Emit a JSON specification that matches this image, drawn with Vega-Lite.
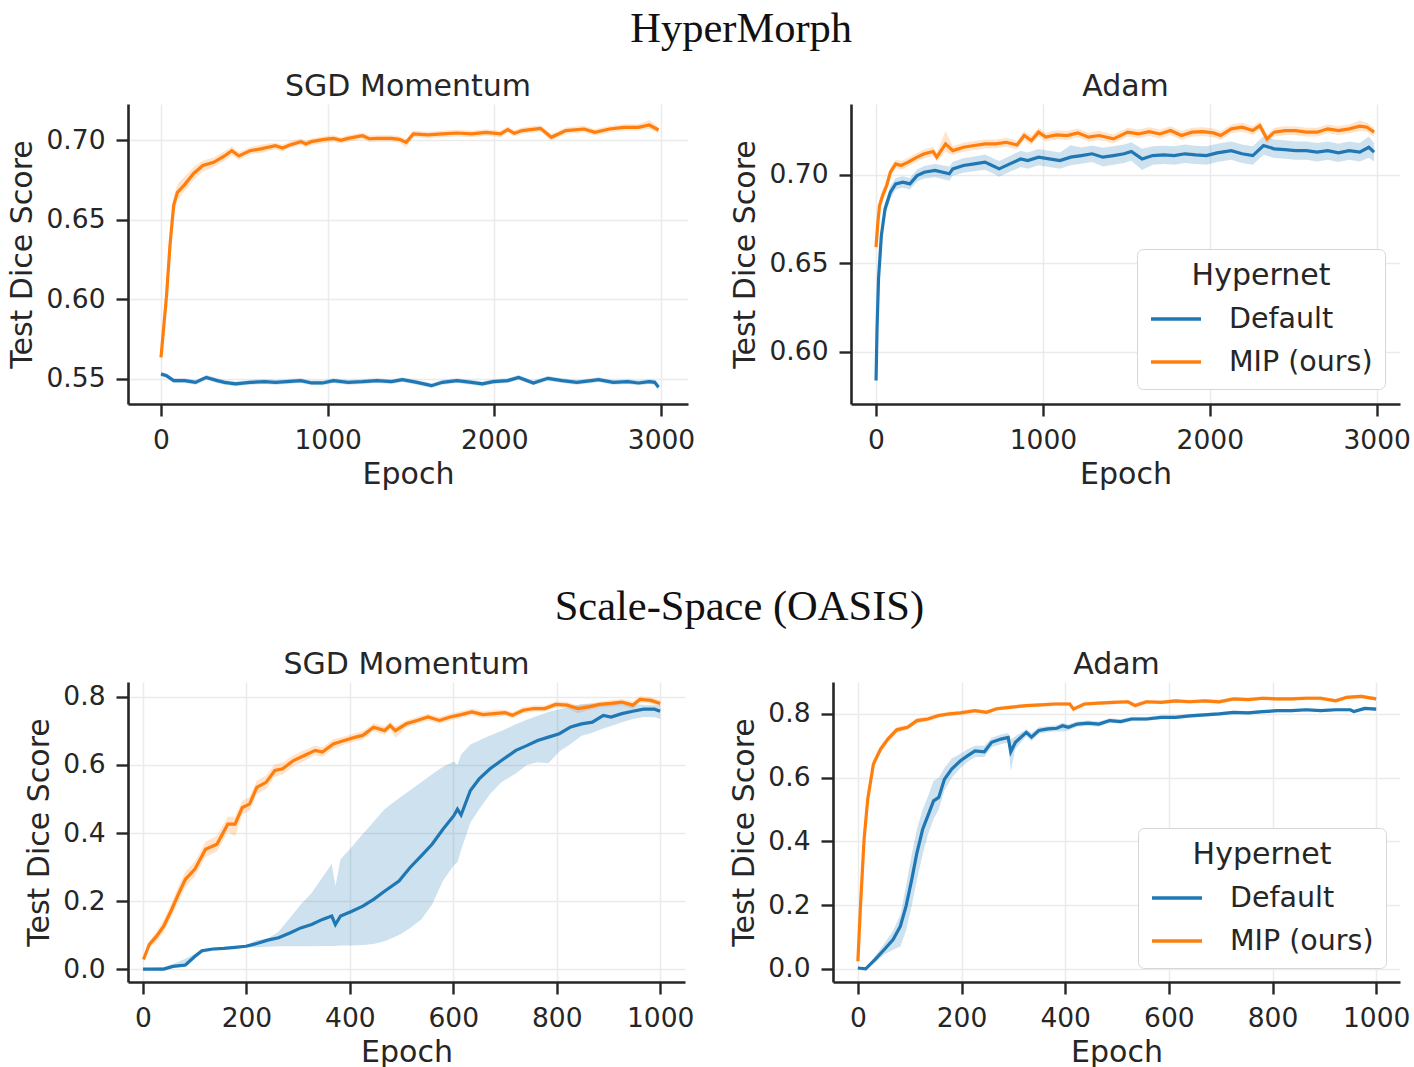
{
"$schema": "https://vega.github.io/schema/vega-lite/v6.json",
"background": "white",
"padding": {"left": 7, "top": 7, "right": 4, "bottom": 5},
"config": {
  "font": "DejaVu Sans",
  "view": {"stroke": null},
  "axis": {"domainColor": "#262626", "domainWidth": 2.6, "tickColor": "#262626", "tickWidth": 2.4, "tickSize": 12, "gridColor": "#ebebeb", "gridWidth": 1.5, "labelFont": "DejaVu Sans", "labelFontSize": 26.5, "labelColor": "#262626", "labelPadding": 11, "titleFont": "DejaVu Sans", "titleFontSize": 30, "titleFontWeight": "normal", "titleColor": "#262626"},
  "axisX": {"titlePadding": 6},
  "axisY": {"titlePadding": 8},
  "title": {"font": "DejaVu Sans", "fontSize": 30, "fontWeight": "normal", "color": "#262626", "offset": 2}
},
"datasets": {
"a": [
{"hypernet":"MIP (ours)","epoch":0,"dice":0.5636,"lo":0.5596,"hi":0.5676},
{"hypernet":"MIP (ours)","epoch":33,"dice":0.602,"lo":0.596,"hi":0.608},
{"hypernet":"MIP (ours)","epoch":54,"dice":0.634,"lo":0.628,"hi":0.640},
{"hypernet":"MIP (ours)","epoch":76,"dice":0.659,"lo":0.653,"hi":0.664},
{"hypernet":"MIP (ours)","epoch":98,"dice":0.667,"lo":0.662,"hi":0.672},
{"hypernet":"MIP (ours)","epoch":142,"dice":0.672,"lo":0.668,"hi":0.677},
{"hypernet":"MIP (ours)","epoch":196,"dice":0.679,"lo":0.675,"hi":0.683},
{"hypernet":"MIP (ours)","epoch":251,"dice":0.684,"lo":0.680,"hi":0.687},
{"hypernet":"MIP (ours)","epoch":316,"dice":0.686,"lo":0.683,"hi":0.689},
{"hypernet":"MIP (ours)","epoch":381,"dice":0.690,"lo":0.687,"hi":0.693},
{"hypernet":"MIP (ours)","epoch":425,"dice":0.6933,"lo":0.6905,"hi":0.696},
{"hypernet":"MIP (ours)","epoch":468,"dice":0.690,"lo":0.6875,"hi":0.6925},
{"hypernet":"MIP (ours)","epoch":534,"dice":0.6933,"lo":0.691,"hi":0.6955},
{"hypernet":"MIP (ours)","epoch":599,"dice":0.6944,"lo":0.692,"hi":0.697},
{"hypernet":"MIP (ours)","epoch":686,"dice":0.6964,"lo":0.694,"hi":0.6985},
{"hypernet":"MIP (ours)","epoch":730,"dice":0.6950,"lo":0.693,"hi":0.697},
{"hypernet":"MIP (ours)","epoch":773,"dice":0.6969,"lo":0.695,"hi":0.699},
{"hypernet":"MIP (ours)","epoch":839,"dice":0.699,"lo":0.697,"hi":0.701},
{"hypernet":"MIP (ours)","epoch":870,"dice":0.6975,"lo":0.6955,"hi":0.6995},
{"hypernet":"MIP (ours)","epoch":904,"dice":0.699,"lo":0.697,"hi":0.701},
{"hypernet":"MIP (ours)","epoch":969,"dice":0.7002,"lo":0.698,"hi":0.7022},
{"hypernet":"MIP (ours)","epoch":1035,"dice":0.701,"lo":0.699,"hi":0.703},
{"hypernet":"MIP (ours)","epoch":1080,"dice":0.6998,"lo":0.6978,"hi":0.7018},
{"hypernet":"MIP (ours)","epoch":1122,"dice":0.701,"lo":0.699,"hi":0.703},
{"hypernet":"MIP (ours)","epoch":1209,"dice":0.7027,"lo":0.7007,"hi":0.7047},
{"hypernet":"MIP (ours)","epoch":1250,"dice":0.7008,"lo":0.6988,"hi":0.7028},
{"hypernet":"MIP (ours)","epoch":1296,"dice":0.701,"lo":0.699,"hi":0.703},
{"hypernet":"MIP (ours)","epoch":1383,"dice":0.701,"lo":0.699,"hi":0.703},
{"hypernet":"MIP (ours)","epoch":1430,"dice":0.7004,"lo":0.6984,"hi":0.7024},
{"hypernet":"MIP (ours)","epoch":1471,"dice":0.6985,"lo":0.6955,"hi":0.7005},
{"hypernet":"MIP (ours)","epoch":1514,"dice":0.7038,"lo":0.7018,"hi":0.7058},
{"hypernet":"MIP (ours)","epoch":1601,"dice":0.7032,"lo":0.7012,"hi":0.7052},
{"hypernet":"MIP (ours)","epoch":1688,"dice":0.7038,"lo":0.7018,"hi":0.7058},
{"hypernet":"MIP (ours)","epoch":1776,"dice":0.7044,"lo":0.7024,"hi":0.7064},
{"hypernet":"MIP (ours)","epoch":1863,"dice":0.7038,"lo":0.7018,"hi":0.7058},
{"hypernet":"MIP (ours)","epoch":1950,"dice":0.7048,"lo":0.7028,"hi":0.7068},
{"hypernet":"MIP (ours)","epoch":2037,"dice":0.7038,"lo":0.7018,"hi":0.7058},
{"hypernet":"MIP (ours)","epoch":2081,"dice":0.7065,"lo":0.7045,"hi":0.7085},
{"hypernet":"MIP (ours)","epoch":2120,"dice":0.7042,"lo":0.7022,"hi":0.7062},
{"hypernet":"MIP (ours)","epoch":2168,"dice":0.7059,"lo":0.7039,"hi":0.7079},
{"hypernet":"MIP (ours)","epoch":2277,"dice":0.7073,"lo":0.7053,"hi":0.7093},
{"hypernet":"MIP (ours)","epoch":2342,"dice":0.7017,"lo":0.6997,"hi":0.7037},
{"hypernet":"MIP (ours)","epoch":2429,"dice":0.7059,"lo":0.7039,"hi":0.7079},
{"hypernet":"MIP (ours)","epoch":2538,"dice":0.7069,"lo":0.7049,"hi":0.7089},
{"hypernet":"MIP (ours)","epoch":2603,"dice":0.7048,"lo":0.7028,"hi":0.7068},
{"hypernet":"MIP (ours)","epoch":2691,"dice":0.7069,"lo":0.7049,"hi":0.7089},
{"hypernet":"MIP (ours)","epoch":2778,"dice":0.7079,"lo":0.7059,"hi":0.7099},
{"hypernet":"MIP (ours)","epoch":2865,"dice":0.7079,"lo":0.7059,"hi":0.7099},
{"hypernet":"MIP (ours)","epoch":2930,"dice":0.7094,"lo":0.7070,"hi":0.7125},
{"hypernet":"MIP (ours)","epoch":2985,"dice":0.7063,"lo":0.7043,"hi":0.7083},
{"hypernet":"Default","epoch":0,"dice":0.5531,"lo":0.5516,"hi":0.5546},
{"hypernet":"Default","epoch":33,"dice":0.5521,"lo":0.5506,"hi":0.5536},
{"hypernet":"Default","epoch":76,"dice":0.549,"lo":0.5475,"hi":0.5505},
{"hypernet":"Default","epoch":142,"dice":0.549,"lo":0.5475,"hi":0.5505},
{"hypernet":"Default","epoch":207,"dice":0.5479,"lo":0.5464,"hi":0.5494},
{"hypernet":"Default","epoch":272,"dice":0.551,"lo":0.5495,"hi":0.5525},
{"hypernet":"Default","epoch":338,"dice":0.549,"lo":0.5475,"hi":0.5505},
{"hypernet":"Default","epoch":381,"dice":0.5479,"lo":0.5464,"hi":0.5494},
{"hypernet":"Default","epoch":447,"dice":0.5469,"lo":0.5454,"hi":0.5484},
{"hypernet":"Default","epoch":534,"dice":0.5479,"lo":0.5464,"hi":0.5494},
{"hypernet":"Default","epoch":621,"dice":0.5483,"lo":0.5468,"hi":0.5498},
{"hypernet":"Default","epoch":686,"dice":0.5479,"lo":0.5464,"hi":0.5494},
{"hypernet":"Default","epoch":752,"dice":0.5483,"lo":0.5468,"hi":0.5498},
{"hypernet":"Default","epoch":839,"dice":0.549,"lo":0.5475,"hi":0.5505},
{"hypernet":"Default","epoch":904,"dice":0.5475,"lo":0.546,"hi":0.549},
{"hypernet":"Default","epoch":969,"dice":0.5475,"lo":0.546,"hi":0.549},
{"hypernet":"Default","epoch":1035,"dice":0.549,"lo":0.5475,"hi":0.5505},
{"hypernet":"Default","epoch":1122,"dice":0.5479,"lo":0.5464,"hi":0.5494},
{"hypernet":"Default","epoch":1209,"dice":0.5483,"lo":0.5468,"hi":0.5498},
{"hypernet":"Default","epoch":1296,"dice":0.549,"lo":0.5475,"hi":0.5505},
{"hypernet":"Default","epoch":1383,"dice":0.5483,"lo":0.5468,"hi":0.5498},
{"hypernet":"Default","epoch":1448,"dice":0.5496,"lo":0.5481,"hi":0.5511},
{"hypernet":"Default","epoch":1536,"dice":0.5479,"lo":0.5464,"hi":0.5494},
{"hypernet":"Default","epoch":1623,"dice":0.5458,"lo":0.5443,"hi":0.5473},
{"hypernet":"Default","epoch":1688,"dice":0.5479,"lo":0.5464,"hi":0.5494},
{"hypernet":"Default","epoch":1776,"dice":0.549,"lo":0.5475,"hi":0.5505},
{"hypernet":"Default","epoch":1863,"dice":0.5479,"lo":0.5464,"hi":0.5494},
{"hypernet":"Default","epoch":1928,"dice":0.5469,"lo":0.5454,"hi":0.5484},
{"hypernet":"Default","epoch":1993,"dice":0.5483,"lo":0.5468,"hi":0.5498},
{"hypernet":"Default","epoch":2081,"dice":0.549,"lo":0.5475,"hi":0.5505},
{"hypernet":"Default","epoch":2146,"dice":0.551,"lo":0.5495,"hi":0.5525},
{"hypernet":"Default","epoch":2234,"dice":0.5475,"lo":0.546,"hi":0.549},
{"hypernet":"Default","epoch":2321,"dice":0.5504,"lo":0.5489,"hi":0.5519},
{"hypernet":"Default","epoch":2408,"dice":0.549,"lo":0.5475,"hi":0.5505},
{"hypernet":"Default","epoch":2495,"dice":0.5479,"lo":0.5464,"hi":0.5494},
{"hypernet":"Default","epoch":2582,"dice":0.549,"lo":0.5475,"hi":0.5505},
{"hypernet":"Default","epoch":2625,"dice":0.5496,"lo":0.5481,"hi":0.5511},
{"hypernet":"Default","epoch":2713,"dice":0.5479,"lo":0.5464,"hi":0.5494},
{"hypernet":"Default","epoch":2800,"dice":0.5483,"lo":0.5468,"hi":0.5498},
{"hypernet":"Default","epoch":2865,"dice":0.5475,"lo":0.546,"hi":0.549},
{"hypernet":"Default","epoch":2930,"dice":0.5483,"lo":0.5468,"hi":0.5498},
{"hypernet":"Default","epoch":2963,"dice":0.5479,"lo":0.5464,"hi":0.5494},
{"hypernet":"Default","epoch":2985,"dice":0.5448,"lo":0.5433,"hi":0.5463}
],
"b": [
{"hypernet":"MIP (ours)","epoch":0,"dice":0.659,"lo":0.657,"hi":0.661},
{"hypernet":"MIP (ours)","epoch":11,"dice":0.6731,"lo":0.670,"hi":0.676},
{"hypernet":"MIP (ours)","epoch":21,"dice":0.6825,"lo":0.679,"hi":0.686},
{"hypernet":"MIP (ours)","epoch":43,"dice":0.6891,"lo":0.686,"hi":0.692},
{"hypernet":"MIP (ours)","epoch":64,"dice":0.6938,"lo":0.691,"hi":0.697},
{"hypernet":"MIP (ours)","epoch":86,"dice":0.7013,"lo":0.699,"hi":0.704},
{"hypernet":"MIP (ours)","epoch":118,"dice":0.706,"lo":0.7035,"hi":0.7085},
{"hypernet":"MIP (ours)","epoch":150,"dice":0.7051,"lo":0.7026,"hi":0.7076},
{"hypernet":"MIP (ours)","epoch":193,"dice":0.707,"lo":0.7045,"hi":0.7095},
{"hypernet":"MIP (ours)","epoch":246,"dice":0.7098,"lo":0.7073,"hi":0.7123},
{"hypernet":"MIP (ours)","epoch":289,"dice":0.7117,"lo":0.7092,"hi":0.7142},
{"hypernet":"MIP (ours)","epoch":342,"dice":0.713,"lo":0.7105,"hi":0.7155},
{"hypernet":"MIP (ours)","epoch":364,"dice":0.7098,"lo":0.7073,"hi":0.7123},
{"hypernet":"MIP (ours)","epoch":417,"dice":0.7173,"lo":0.713,"hi":0.7245},
{"hypernet":"MIP (ours)","epoch":460,"dice":0.7135,"lo":0.711,"hi":0.716},
{"hypernet":"MIP (ours)","epoch":524,"dice":0.7154,"lo":0.7129,"hi":0.7179},
{"hypernet":"MIP (ours)","epoch":589,"dice":0.7164,"lo":0.7139,"hi":0.7189},
{"hypernet":"MIP (ours)","epoch":653,"dice":0.7173,"lo":0.7148,"hi":0.7198},
{"hypernet":"MIP (ours)","epoch":717,"dice":0.7173,"lo":0.7148,"hi":0.7198},
{"hypernet":"MIP (ours)","epoch":781,"dice":0.7182,"lo":0.7157,"hi":0.7207},
{"hypernet":"MIP (ours)","epoch":845,"dice":0.7167,"lo":0.7142,"hi":0.7192},
{"hypernet":"MIP (ours)","epoch":888,"dice":0.722,"lo":0.7195,"hi":0.7245},
{"hypernet":"MIP (ours)","epoch":931,"dice":0.7192,"lo":0.7167,"hi":0.7217},
{"hypernet":"MIP (ours)","epoch":974,"dice":0.7239,"lo":0.7214,"hi":0.7264},
{"hypernet":"MIP (ours)","epoch":1017,"dice":0.7211,"lo":0.7186,"hi":0.7236},
{"hypernet":"MIP (ours)","epoch":1081,"dice":0.7224,"lo":0.7199,"hi":0.7249},
{"hypernet":"MIP (ours)","epoch":1145,"dice":0.722,"lo":0.7195,"hi":0.7245},
{"hypernet":"MIP (ours)","epoch":1209,"dice":0.7235,"lo":0.721,"hi":0.726},
{"hypernet":"MIP (ours)","epoch":1273,"dice":0.7211,"lo":0.7186,"hi":0.7236},
{"hypernet":"MIP (ours)","epoch":1337,"dice":0.722,"lo":0.7195,"hi":0.7245},
{"hypernet":"MIP (ours)","epoch":1423,"dice":0.7201,"lo":0.7176,"hi":0.7226},
{"hypernet":"MIP (ours)","epoch":1508,"dice":0.7239,"lo":0.7214,"hi":0.7264},
{"hypernet":"MIP (ours)","epoch":1572,"dice":0.7229,"lo":0.7204,"hi":0.7254},
{"hypernet":"MIP (ours)","epoch":1637,"dice":0.7242,"lo":0.7217,"hi":0.7267},
{"hypernet":"MIP (ours)","epoch":1701,"dice":0.7229,"lo":0.7204,"hi":0.7254},
{"hypernet":"MIP (ours)","epoch":1765,"dice":0.7248,"lo":0.7223,"hi":0.7273},
{"hypernet":"MIP (ours)","epoch":1830,"dice":0.722,"lo":0.7195,"hi":0.7245},
{"hypernet":"MIP (ours)","epoch":1894,"dice":0.7239,"lo":0.7214,"hi":0.7264},
{"hypernet":"MIP (ours)","epoch":1958,"dice":0.7242,"lo":0.7217,"hi":0.7267},
{"hypernet":"MIP (ours)","epoch":2022,"dice":0.7235,"lo":0.721,"hi":0.726},
{"hypernet":"MIP (ours)","epoch":2065,"dice":0.722,"lo":0.7195,"hi":0.7245},
{"hypernet":"MIP (ours)","epoch":2129,"dice":0.7258,"lo":0.7233,"hi":0.7283},
{"hypernet":"MIP (ours)","epoch":2193,"dice":0.7267,"lo":0.7242,"hi":0.7292},
{"hypernet":"MIP (ours)","epoch":2258,"dice":0.7248,"lo":0.7223,"hi":0.7273},
{"hypernet":"MIP (ours)","epoch":2300,"dice":0.7276,"lo":0.7251,"hi":0.7301},
{"hypernet":"MIP (ours)","epoch":2343,"dice":0.7201,"lo":0.7176,"hi":0.7226},
{"hypernet":"MIP (ours)","epoch":2386,"dice":0.7239,"lo":0.7214,"hi":0.7264},
{"hypernet":"MIP (ours)","epoch":2450,"dice":0.7248,"lo":0.7223,"hi":0.7273},
{"hypernet":"MIP (ours)","epoch":2514,"dice":0.7248,"lo":0.7223,"hi":0.7273},
{"hypernet":"MIP (ours)","epoch":2578,"dice":0.7239,"lo":0.7214,"hi":0.7264},
{"hypernet":"MIP (ours)","epoch":2643,"dice":0.7239,"lo":0.7214,"hi":0.7264},
{"hypernet":"MIP (ours)","epoch":2707,"dice":0.7258,"lo":0.7233,"hi":0.7283},
{"hypernet":"MIP (ours)","epoch":2771,"dice":0.7248,"lo":0.7223,"hi":0.7273},
{"hypernet":"MIP (ours)","epoch":2835,"dice":0.7258,"lo":0.7233,"hi":0.7283},
{"hypernet":"MIP (ours)","epoch":2899,"dice":0.7273,"lo":0.7245,"hi":0.7305},
{"hypernet":"MIP (ours)","epoch":2942,"dice":0.7267,"lo":0.7242,"hi":0.7292},
{"hypernet":"MIP (ours)","epoch":2985,"dice":0.7239,"lo":0.7214,"hi":0.7264},
{"hypernet":"Default","epoch":0,"dice":0.5838,"lo":0.5825,"hi":0.585},
{"hypernet":"Default","epoch":6,"dice":0.613,"lo":0.610,"hi":0.616},
{"hypernet":"Default","epoch":15,"dice":0.6412,"lo":0.638,"hi":0.644},
{"hypernet":"Default","epoch":32,"dice":0.6656,"lo":0.662,"hi":0.669},
{"hypernet":"Default","epoch":54,"dice":0.6806,"lo":0.677,"hi":0.684},
{"hypernet":"Default","epoch":86,"dice":0.69,"lo":0.6865,"hi":0.6935},
{"hypernet":"Default","epoch":118,"dice":0.6947,"lo":0.6915,"hi":0.698},
{"hypernet":"Default","epoch":161,"dice":0.6957,"lo":0.6925,"hi":0.699},
{"hypernet":"Default","epoch":203,"dice":0.6947,"lo":0.6915,"hi":0.698},
{"hypernet":"Default","epoch":246,"dice":0.6994,"lo":0.696,"hi":0.7028},
{"hypernet":"Default","epoch":289,"dice":0.7013,"lo":0.6978,"hi":0.7048},
{"hypernet":"Default","epoch":353,"dice":0.7023,"lo":0.6985,"hi":0.706},
{"hypernet":"Default","epoch":439,"dice":0.7004,"lo":0.6965,"hi":0.7045},
{"hypernet":"Default","epoch":460,"dice":0.7032,"lo":0.6993,"hi":0.7072},
{"hypernet":"Default","epoch":524,"dice":0.7051,"lo":0.701,"hi":0.7092},
{"hypernet":"Default","epoch":589,"dice":0.706,"lo":0.7018,"hi":0.7102},
{"hypernet":"Default","epoch":653,"dice":0.707,"lo":0.7027,"hi":0.7113},
{"hypernet":"Default","epoch":696,"dice":0.7051,"lo":0.7008,"hi":0.7094},
{"hypernet":"Default","epoch":738,"dice":0.7032,"lo":0.6988,"hi":0.7076},
{"hypernet":"Default","epoch":802,"dice":0.706,"lo":0.7015,"hi":0.7105},
{"hypernet":"Default","epoch":867,"dice":0.7088,"lo":0.7042,"hi":0.7134},
{"hypernet":"Default","epoch":909,"dice":0.7079,"lo":0.7033,"hi":0.7125},
{"hypernet":"Default","epoch":974,"dice":0.7098,"lo":0.7052,"hi":0.7144},
{"hypernet":"Default","epoch":1038,"dice":0.7088,"lo":0.7042,"hi":0.7134},
{"hypernet":"Default","epoch":1102,"dice":0.7079,"lo":0.7033,"hi":0.7125},
{"hypernet":"Default","epoch":1166,"dice":0.7098,"lo":0.7052,"hi":0.7165},
{"hypernet":"Default","epoch":1230,"dice":0.7107,"lo":0.7061,"hi":0.7153},
{"hypernet":"Default","epoch":1295,"dice":0.7117,"lo":0.707,"hi":0.7164},
{"hypernet":"Default","epoch":1359,"dice":0.7098,"lo":0.7045,"hi":0.7151},
{"hypernet":"Default","epoch":1423,"dice":0.7107,"lo":0.7055,"hi":0.7159},
{"hypernet":"Default","epoch":1487,"dice":0.7117,"lo":0.7065,"hi":0.7169},
{"hypernet":"Default","epoch":1530,"dice":0.713,"lo":0.7078,"hi":0.7182},
{"hypernet":"Default","epoch":1594,"dice":0.7088,"lo":0.7025,"hi":0.7145},
{"hypernet":"Default","epoch":1658,"dice":0.7107,"lo":0.7055,"hi":0.7159},
{"hypernet":"Default","epoch":1723,"dice":0.7111,"lo":0.7059,"hi":0.7163},
{"hypernet":"Default","epoch":1787,"dice":0.7107,"lo":0.7055,"hi":0.7159},
{"hypernet":"Default","epoch":1851,"dice":0.7117,"lo":0.7065,"hi":0.7169},
{"hypernet":"Default","epoch":1915,"dice":0.7111,"lo":0.7059,"hi":0.7163},
{"hypernet":"Default","epoch":1980,"dice":0.7107,"lo":0.7055,"hi":0.7159},
{"hypernet":"Default","epoch":2044,"dice":0.7122,"lo":0.707,"hi":0.7174},
{"hypernet":"Default","epoch":2129,"dice":0.7135,"lo":0.7083,"hi":0.7187},
{"hypernet":"Default","epoch":2193,"dice":0.7117,"lo":0.7065,"hi":0.7169},
{"hypernet":"Default","epoch":2258,"dice":0.7107,"lo":0.7055,"hi":0.7159},
{"hypernet":"Default","epoch":2322,"dice":0.7164,"lo":0.7112,"hi":0.7216},
{"hypernet":"Default","epoch":2386,"dice":0.7145,"lo":0.7093,"hi":0.7197},
{"hypernet":"Default","epoch":2450,"dice":0.7141,"lo":0.7089,"hi":0.7193},
{"hypernet":"Default","epoch":2514,"dice":0.7135,"lo":0.7083,"hi":0.7187},
{"hypernet":"Default","epoch":2578,"dice":0.7135,"lo":0.7083,"hi":0.7187},
{"hypernet":"Default","epoch":2643,"dice":0.7126,"lo":0.7074,"hi":0.7178},
{"hypernet":"Default","epoch":2707,"dice":0.7135,"lo":0.7083,"hi":0.7187},
{"hypernet":"Default","epoch":2771,"dice":0.7122,"lo":0.707,"hi":0.7174},
{"hypernet":"Default","epoch":2835,"dice":0.7135,"lo":0.7083,"hi":0.7187},
{"hypernet":"Default","epoch":2899,"dice":0.7126,"lo":0.7074,"hi":0.7178},
{"hypernet":"Default","epoch":2953,"dice":0.7154,"lo":0.7095,"hi":0.7215},
{"hypernet":"Default","epoch":2985,"dice":0.7126,"lo":0.7074,"hi":0.7178}
],
"c": [
{"hypernet":"MIP (ours)","epoch":1,"dice":0.028,"lo":0.022,"hi":0.034},
{"hypernet":"MIP (ours)","epoch":12,"dice":0.072,"lo":0.062,"hi":0.082},
{"hypernet":"MIP (ours)","epoch":26,"dice":0.096,"lo":0.082,"hi":0.11},
{"hypernet":"MIP (ours)","epoch":40,"dice":0.126,"lo":0.108,"hi":0.144},
{"hypernet":"MIP (ours)","epoch":54,"dice":0.17,"lo":0.15,"hi":0.19},
{"hypernet":"MIP (ours)","epoch":68,"dice":0.219,"lo":0.197,"hi":0.241},
{"hypernet":"MIP (ours)","epoch":82,"dice":0.264,"lo":0.242,"hi":0.286},
{"hypernet":"MIP (ours)","epoch":100,"dice":0.293,"lo":0.271,"hi":0.315},
{"hypernet":"MIP (ours)","epoch":121,"dice":0.352,"lo":0.33,"hi":0.374},
{"hypernet":"MIP (ours)","epoch":143,"dice":0.367,"lo":0.345,"hi":0.392},
{"hypernet":"MIP (ours)","epoch":164,"dice":0.426,"lo":0.404,"hi":0.448},
{"hypernet":"MIP (ours)","epoch":178,"dice":0.426,"lo":0.39,"hi":0.448},
{"hypernet":"MIP (ours)","epoch":192,"dice":0.475,"lo":0.455,"hi":0.495},
{"hypernet":"MIP (ours)","epoch":206,"dice":0.485,"lo":0.465,"hi":0.505},
{"hypernet":"MIP (ours)","epoch":220,"dice":0.534,"lo":0.514,"hi":0.554},
{"hypernet":"MIP (ours)","epoch":238,"dice":0.549,"lo":0.529,"hi":0.569},
{"hypernet":"MIP (ours)","epoch":255,"dice":0.584,"lo":0.566,"hi":0.602},
{"hypernet":"MIP (ours)","epoch":270,"dice":0.589,"lo":0.571,"hi":0.607},
{"hypernet":"MIP (ours)","epoch":291,"dice":0.613,"lo":0.597,"hi":0.629},
{"hypernet":"MIP (ours)","epoch":312,"dice":0.628,"lo":0.612,"hi":0.644},
{"hypernet":"MIP (ours)","epoch":333,"dice":0.643,"lo":0.629,"hi":0.657},
{"hypernet":"MIP (ours)","epoch":347,"dice":0.638,"lo":0.624,"hi":0.652},
{"hypernet":"MIP (ours)","epoch":368,"dice":0.662,"lo":0.648,"hi":0.676},
{"hypernet":"MIP (ours)","epoch":389,"dice":0.672,"lo":0.66,"hi":0.684},
{"hypernet":"MIP (ours)","epoch":411,"dice":0.682,"lo":0.67,"hi":0.694},
{"hypernet":"MIP (ours)","epoch":425,"dice":0.687,"lo":0.675,"hi":0.699},
{"hypernet":"MIP (ours)","epoch":446,"dice":0.711,"lo":0.699,"hi":0.723},
{"hypernet":"MIP (ours)","epoch":467,"dice":0.701,"lo":0.689,"hi":0.713},
{"hypernet":"MIP (ours)","epoch":478,"dice":0.716,"lo":0.704,"hi":0.728},
{"hypernet":"MIP (ours)","epoch":488,"dice":0.701,"lo":0.68,"hi":0.713},
{"hypernet":"MIP (ours)","epoch":509,"dice":0.721,"lo":0.711,"hi":0.731},
{"hypernet":"MIP (ours)","epoch":530,"dice":0.731,"lo":0.721,"hi":0.741},
{"hypernet":"MIP (ours)","epoch":551,"dice":0.741,"lo":0.731,"hi":0.751},
{"hypernet":"MIP (ours)","epoch":573,"dice":0.731,"lo":0.721,"hi":0.741},
{"hypernet":"MIP (ours)","epoch":594,"dice":0.741,"lo":0.731,"hi":0.751},
{"hypernet":"MIP (ours)","epoch":615,"dice":0.748,"lo":0.738,"hi":0.758},
{"hypernet":"MIP (ours)","epoch":636,"dice":0.756,"lo":0.746,"hi":0.766},
{"hypernet":"MIP (ours)","epoch":657,"dice":0.748,"lo":0.738,"hi":0.758},
{"hypernet":"MIP (ours)","epoch":679,"dice":0.751,"lo":0.741,"hi":0.761},
{"hypernet":"MIP (ours)","epoch":700,"dice":0.754,"lo":0.745,"hi":0.763},
{"hypernet":"MIP (ours)","epoch":714,"dice":0.746,"lo":0.737,"hi":0.755},
{"hypernet":"MIP (ours)","epoch":735,"dice":0.761,"lo":0.752,"hi":0.77},
{"hypernet":"MIP (ours)","epoch":756,"dice":0.766,"lo":0.757,"hi":0.775},
{"hypernet":"MIP (ours)","epoch":777,"dice":0.766,"lo":0.757,"hi":0.775},
{"hypernet":"MIP (ours)","epoch":798,"dice":0.778,"lo":0.769,"hi":0.787},
{"hypernet":"MIP (ours)","epoch":820,"dice":0.776,"lo":0.767,"hi":0.785},
{"hypernet":"MIP (ours)","epoch":841,"dice":0.766,"lo":0.752,"hi":0.775},
{"hypernet":"MIP (ours)","epoch":862,"dice":0.771,"lo":0.762,"hi":0.78},
{"hypernet":"MIP (ours)","epoch":883,"dice":0.778,"lo":0.769,"hi":0.787},
{"hypernet":"MIP (ours)","epoch":905,"dice":0.781,"lo":0.772,"hi":0.79},
{"hypernet":"MIP (ours)","epoch":926,"dice":0.785,"lo":0.776,"hi":0.794},
{"hypernet":"MIP (ours)","epoch":947,"dice":0.776,"lo":0.765,"hi":0.787},
{"hypernet":"MIP (ours)","epoch":961,"dice":0.793,"lo":0.784,"hi":0.802},
{"hypernet":"MIP (ours)","epoch":982,"dice":0.79,"lo":0.781,"hi":0.799},
{"hypernet":"MIP (ours)","epoch":1000,"dice":0.781,"lo":0.772,"hi":0.79},
{"hypernet":"Default","epoch":0,"dice":0.0,"lo":0.0,"hi":0.002},
{"hypernet":"Default","epoch":16,"dice":0.0,"lo":0.0,"hi":0.003},
{"hypernet":"Default","epoch":40,"dice":0.0,"lo":0.0,"hi":0.006},
{"hypernet":"Default","epoch":58,"dice":0.008,"lo":0.003,"hi":0.015},
{"hypernet":"Default","epoch":82,"dice":0.012,"lo":0.006,"hi":0.03},
{"hypernet":"Default","epoch":100,"dice":0.037,"lo":0.03,"hi":0.045},
{"hypernet":"Default","epoch":114,"dice":0.054,"lo":0.047,"hi":0.058},
{"hypernet":"Default","epoch":135,"dice":0.059,"lo":0.054,"hi":0.062},
{"hypernet":"Default","epoch":156,"dice":0.061,"lo":0.057,"hi":0.063},
{"hypernet":"Default","epoch":178,"dice":0.064,"lo":0.061,"hi":0.066},
{"hypernet":"Default","epoch":199,"dice":0.067,"lo":0.063,"hi":0.07},
{"hypernet":"Default","epoch":220,"dice":0.075,"lo":0.064,"hi":0.085},
{"hypernet":"Default","epoch":241,"dice":0.085,"lo":0.066,"hi":0.09},
{"hypernet":"Default","epoch":262,"dice":0.092,"lo":0.067,"hi":0.11},
{"hypernet":"Default","epoch":284,"dice":0.106,"lo":0.067,"hi":0.15},
{"hypernet":"Default","epoch":305,"dice":0.121,"lo":0.067,"hi":0.19},
{"hypernet":"Default","epoch":326,"dice":0.131,"lo":0.067,"hi":0.224},
{"hypernet":"Default","epoch":347,"dice":0.146,"lo":0.068,"hi":0.27},
{"hypernet":"Default","epoch":365,"dice":0.156,"lo":0.068,"hi":0.31},
{"hypernet":"Default","epoch":372,"dice":0.131,"lo":0.068,"hi":0.244},
{"hypernet":"Default","epoch":382,"dice":0.156,"lo":0.069,"hi":0.323},
{"hypernet":"Default","epoch":404,"dice":0.17,"lo":0.069,"hi":0.36},
{"hypernet":"Default","epoch":425,"dice":0.185,"lo":0.071,"hi":0.397},
{"hypernet":"Default","epoch":446,"dice":0.205,"lo":0.074,"hi":0.433},
{"hypernet":"Default","epoch":467,"dice":0.229,"lo":0.082,"hi":0.47},
{"hypernet":"Default","epoch":495,"dice":0.259,"lo":0.1,"hi":0.502},
{"hypernet":"Default","epoch":516,"dice":0.298,"lo":0.12,"hi":0.525},
{"hypernet":"Default","epoch":538,"dice":0.333,"lo":0.146,"hi":0.549},
{"hypernet":"Default","epoch":559,"dice":0.367,"lo":0.19,"hi":0.573},
{"hypernet":"Default","epoch":580,"dice":0.411,"lo":0.26,"hi":0.595},
{"hypernet":"Default","epoch":601,"dice":0.451,"lo":0.305,"hi":0.61},
{"hypernet":"Default","epoch":608,"dice":0.47,"lo":0.313,"hi":0.6},
{"hypernet":"Default","epoch":615,"dice":0.453,"lo":0.35,"hi":0.63},
{"hypernet":"Default","epoch":633,"dice":0.525,"lo":0.43,"hi":0.66},
{"hypernet":"Default","epoch":650,"dice":0.559,"lo":0.47,"hi":0.672},
{"hypernet":"Default","epoch":671,"dice":0.589,"lo":0.515,"hi":0.687},
{"hypernet":"Default","epoch":693,"dice":0.613,"lo":0.549,"hi":0.7},
{"hypernet":"Default","epoch":721,"dice":0.643,"lo":0.575,"hi":0.72},
{"hypernet":"Default","epoch":742,"dice":0.657,"lo":0.6,"hi":0.733},
{"hypernet":"Default","epoch":763,"dice":0.672,"lo":0.608,"hi":0.745},
{"hypernet":"Default","epoch":784,"dice":0.682,"lo":0.605,"hi":0.756},
{"hypernet":"Default","epoch":805,"dice":0.692,"lo":0.64,"hi":0.764},
{"hypernet":"Default","epoch":827,"dice":0.712,"lo":0.662,"hi":0.771},
{"hypernet":"Default","epoch":848,"dice":0.721,"lo":0.686,"hi":0.779},
{"hypernet":"Default","epoch":869,"dice":0.726,"lo":0.695,"hi":0.781},
{"hypernet":"Default","epoch":890,"dice":0.746,"lo":0.707,"hi":0.781},
{"hypernet":"Default","epoch":905,"dice":0.741,"lo":0.715,"hi":0.781},
{"hypernet":"Default","epoch":926,"dice":0.751,"lo":0.726,"hi":0.781},
{"hypernet":"Default","epoch":947,"dice":0.758,"lo":0.735,"hi":0.779},
{"hypernet":"Default","epoch":968,"dice":0.764,"lo":0.741,"hi":0.777},
{"hypernet":"Default","epoch":989,"dice":0.764,"lo":0.74,"hi":0.776},
{"hypernet":"Default","epoch":1000,"dice":0.758,"lo":0.736,"hi":0.776}
],
"d": [
{"hypernet":"MIP (ours)","epoch":0,"dice":0.024,"lo":0.018,"hi":0.03},
{"hypernet":"MIP (ours)","epoch":5,"dice":0.197,"lo":0.18,"hi":0.214},
{"hypernet":"MIP (ours)","epoch":12,"dice":0.407,"lo":0.39,"hi":0.424},
{"hypernet":"MIP (ours)","epoch":19,"dice":0.532,"lo":0.517,"hi":0.547},
{"hypernet":"MIP (ours)","epoch":30,"dice":0.643,"lo":0.63,"hi":0.656},
{"hypernet":"MIP (ours)","epoch":44,"dice":0.69,"lo":0.679,"hi":0.701},
{"hypernet":"MIP (ours)","epoch":58,"dice":0.721,"lo":0.711,"hi":0.731},
{"hypernet":"MIP (ours)","epoch":75,"dice":0.75,"lo":0.741,"hi":0.759},
{"hypernet":"MIP (ours)","epoch":96,"dice":0.758,"lo":0.75,"hi":0.766},
{"hypernet":"MIP (ours)","epoch":114,"dice":0.779,"lo":0.771,"hi":0.787},
{"hypernet":"MIP (ours)","epoch":135,"dice":0.784,"lo":0.776,"hi":0.792},
{"hypernet":"MIP (ours)","epoch":156,"dice":0.795,"lo":0.788,"hi":0.802},
{"hypernet":"MIP (ours)","epoch":177,"dice":0.8,"lo":0.793,"hi":0.807},
{"hypernet":"MIP (ours)","epoch":198,"dice":0.803,"lo":0.796,"hi":0.81},
{"hypernet":"MIP (ours)","epoch":226,"dice":0.81,"lo":0.804,"hi":0.816},
{"hypernet":"MIP (ours)","epoch":248,"dice":0.805,"lo":0.799,"hi":0.811},
{"hypernet":"MIP (ours)","epoch":268,"dice":0.816,"lo":0.81,"hi":0.822},
{"hypernet":"MIP (ours)","epoch":297,"dice":0.821,"lo":0.815,"hi":0.827},
{"hypernet":"MIP (ours)","epoch":325,"dice":0.826,"lo":0.82,"hi":0.832},
{"hypernet":"MIP (ours)","epoch":353,"dice":0.828,"lo":0.822,"hi":0.834},
{"hypernet":"MIP (ours)","epoch":381,"dice":0.831,"lo":0.825,"hi":0.837},
{"hypernet":"MIP (ours)","epoch":409,"dice":0.831,"lo":0.825,"hi":0.837},
{"hypernet":"MIP (ours)","epoch":416,"dice":0.815,"lo":0.807,"hi":0.823},
{"hypernet":"MIP (ours)","epoch":437,"dice":0.831,"lo":0.825,"hi":0.837},
{"hypernet":"MIP (ours)","epoch":465,"dice":0.834,"lo":0.828,"hi":0.84},
{"hypernet":"MIP (ours)","epoch":493,"dice":0.836,"lo":0.83,"hi":0.842},
{"hypernet":"MIP (ours)","epoch":521,"dice":0.838,"lo":0.832,"hi":0.844},
{"hypernet":"MIP (ours)","epoch":535,"dice":0.826,"lo":0.818,"hi":0.834},
{"hypernet":"MIP (ours)","epoch":557,"dice":0.838,"lo":0.832,"hi":0.844},
{"hypernet":"MIP (ours)","epoch":585,"dice":0.836,"lo":0.83,"hi":0.842},
{"hypernet":"MIP (ours)","epoch":613,"dice":0.841,"lo":0.835,"hi":0.847},
{"hypernet":"MIP (ours)","epoch":640,"dice":0.838,"lo":0.832,"hi":0.844},
{"hypernet":"MIP (ours)","epoch":669,"dice":0.841,"lo":0.835,"hi":0.847},
{"hypernet":"MIP (ours)","epoch":697,"dice":0.838,"lo":0.832,"hi":0.844},
{"hypernet":"MIP (ours)","epoch":725,"dice":0.847,"lo":0.841,"hi":0.853},
{"hypernet":"MIP (ours)","epoch":753,"dice":0.845,"lo":0.839,"hi":0.851},
{"hypernet":"MIP (ours)","epoch":781,"dice":0.849,"lo":0.843,"hi":0.855},
{"hypernet":"MIP (ours)","epoch":809,"dice":0.847,"lo":0.841,"hi":0.853},
{"hypernet":"MIP (ours)","epoch":837,"dice":0.847,"lo":0.841,"hi":0.853},
{"hypernet":"MIP (ours)","epoch":865,"dice":0.849,"lo":0.843,"hi":0.855},
{"hypernet":"MIP (ours)","epoch":893,"dice":0.849,"lo":0.843,"hi":0.855},
{"hypernet":"MIP (ours)","epoch":922,"dice":0.841,"lo":0.835,"hi":0.847},
{"hypernet":"MIP (ours)","epoch":943,"dice":0.852,"lo":0.846,"hi":0.858},
{"hypernet":"MIP (ours)","epoch":971,"dice":0.855,"lo":0.849,"hi":0.861},
{"hypernet":"MIP (ours)","epoch":1000,"dice":0.847,"lo":0.841,"hi":0.853},
{"hypernet":"Default","epoch":0,"dice":0.003,"lo":0.0,"hi":0.006},
{"hypernet":"Default","epoch":15,"dice":0.0,"lo":-0.003,"hi":0.004},
{"hypernet":"Default","epoch":33,"dice":0.029,"lo":0.02,"hi":0.04},
{"hypernet":"Default","epoch":51,"dice":0.061,"lo":0.045,"hi":0.08},
{"hypernet":"Default","epoch":68,"dice":0.092,"lo":0.06,"hi":0.12},
{"hypernet":"Default","epoch":82,"dice":0.134,"lo":0.07,"hi":0.17},
{"hypernet":"Default","epoch":93,"dice":0.197,"lo":0.12,"hi":0.26},
{"hypernet":"Default","epoch":104,"dice":0.281,"lo":0.2,"hi":0.36},
{"hypernet":"Default","epoch":114,"dice":0.365,"lo":0.28,"hi":0.44},
{"hypernet":"Default","epoch":125,"dice":0.438,"lo":0.36,"hi":0.5},
{"hypernet":"Default","epoch":135,"dice":0.48,"lo":0.42,"hi":0.54},
{"hypernet":"Default","epoch":146,"dice":0.527,"lo":0.47,"hi":0.59},
{"hypernet":"Default","epoch":156,"dice":0.538,"lo":0.5,"hi":0.6},
{"hypernet":"Default","epoch":167,"dice":0.595,"lo":0.56,"hi":0.63},
{"hypernet":"Default","epoch":181,"dice":0.627,"lo":0.6,"hi":0.66},
{"hypernet":"Default","epoch":198,"dice":0.653,"lo":0.63,"hi":0.675},
{"hypernet":"Default","epoch":212,"dice":0.669,"lo":0.65,"hi":0.69},
{"hypernet":"Default","epoch":226,"dice":0.684,"lo":0.665,"hi":0.7},
{"hypernet":"Default","epoch":244,"dice":0.681,"lo":0.665,"hi":0.7},
{"hypernet":"Default","epoch":258,"dice":0.711,"lo":0.695,"hi":0.725},
{"hypernet":"Default","epoch":276,"dice":0.721,"lo":0.705,"hi":0.735},
{"hypernet":"Default","epoch":290,"dice":0.726,"lo":0.71,"hi":0.74},
{"hypernet":"Default","epoch":295,"dice":0.681,"lo":0.62,"hi":0.72},
{"hypernet":"Default","epoch":304,"dice":0.711,"lo":0.69,"hi":0.73},
{"hypernet":"Default","epoch":325,"dice":0.742,"lo":0.73,"hi":0.752},
{"hypernet":"Default","epoch":335,"dice":0.727,"lo":0.715,"hi":0.74},
{"hypernet":"Default","epoch":349,"dice":0.748,"lo":0.738,"hi":0.758},
{"hypernet":"Default","epoch":367,"dice":0.753,"lo":0.743,"hi":0.762},
{"hypernet":"Default","epoch":384,"dice":0.755,"lo":0.745,"hi":0.764},
{"hypernet":"Default","epoch":395,"dice":0.763,"lo":0.745,"hi":0.772},
{"hypernet":"Default","epoch":406,"dice":0.758,"lo":0.748,"hi":0.767},
{"hypernet":"Default","epoch":423,"dice":0.768,"lo":0.76,"hi":0.776},
{"hypernet":"Default","epoch":444,"dice":0.771,"lo":0.763,"hi":0.779},
{"hypernet":"Default","epoch":465,"dice":0.768,"lo":0.76,"hi":0.776},
{"hypernet":"Default","epoch":486,"dice":0.779,"lo":0.772,"hi":0.786},
{"hypernet":"Default","epoch":507,"dice":0.776,"lo":0.769,"hi":0.783},
{"hypernet":"Default","epoch":528,"dice":0.784,"lo":0.777,"hi":0.791},
{"hypernet":"Default","epoch":557,"dice":0.784,"lo":0.778,"hi":0.79},
{"hypernet":"Default","epoch":585,"dice":0.789,"lo":0.783,"hi":0.795},
{"hypernet":"Default","epoch":613,"dice":0.789,"lo":0.783,"hi":0.795},
{"hypernet":"Default","epoch":640,"dice":0.794,"lo":0.788,"hi":0.8},
{"hypernet":"Default","epoch":669,"dice":0.797,"lo":0.791,"hi":0.803},
{"hypernet":"Default","epoch":697,"dice":0.8,"lo":0.795,"hi":0.805},
{"hypernet":"Default","epoch":725,"dice":0.805,"lo":0.8,"hi":0.81},
{"hypernet":"Default","epoch":753,"dice":0.803,"lo":0.798,"hi":0.808},
{"hypernet":"Default","epoch":781,"dice":0.807,"lo":0.802,"hi":0.812},
{"hypernet":"Default","epoch":809,"dice":0.81,"lo":0.805,"hi":0.815},
{"hypernet":"Default","epoch":837,"dice":0.81,"lo":0.805,"hi":0.815},
{"hypernet":"Default","epoch":865,"dice":0.813,"lo":0.808,"hi":0.818},
{"hypernet":"Default","epoch":893,"dice":0.81,"lo":0.805,"hi":0.815},
{"hypernet":"Default","epoch":922,"dice":0.813,"lo":0.808,"hi":0.818},
{"hypernet":"Default","epoch":950,"dice":0.813,"lo":0.808,"hi":0.818},
{"hypernet":"Default","epoch":957,"dice":0.807,"lo":0.802,"hi":0.812},
{"hypernet":"Default","epoch":978,"dice":0.817,"lo":0.812,"hi":0.822},
{"hypernet":"Default","epoch":1000,"dice":0.815,"lo":0.81,"hi":0.82}
]
},
"resolve": {"scale": {"fill": "independent", "stroke": "independent"}, "legend": {"fill": "independent", "stroke": "independent"}},
"spacing": 95,
"vconcat": [
{
 "title": {"text": "HyperMorph", "font": "Liberation Serif", "fontSize": 42.5, "fontWeight": "normal", "color": "#111111", "anchor": "middle", "offset": 22, "dx": 32},
 "resolve": {"scale": {"fill": "independent", "stroke": "independent"}, "legend": {"fill": "independent", "stroke": "independent"}},
 "spacing": 35,
 "hconcat": [
  {
   "title": "SGD Momentum",
   "width": 560, "height": 300,
   "data": {"name": "a"},
   "layer": [
    {"mark": {"type": "area", "opacity": 0.22},
     "encoding": {
      "x": {"field": "epoch", "type": "quantitative", "scale": {"domain": [-198, 3162], "nice": false, "zero": false}, "axis": {"title": "Epoch", "values": [0, 1000, 2000, 3000], "format": "d"}},
      "y": {"field": "lo", "type": "quantitative", "scale": {"domain": [0.5343, 0.7226], "nice": false, "zero": false}, "axis": {"title": "Test Dice Score", "values": [0.55, 0.6, 0.65, 0.7], "format": ".2f"}},
      "y2": {"field": "hi"},
      "fill": {"field": "hypernet", "type": "nominal", "scale": {"domain": ["MIP (ours)", "Default"], "range": ["#ff7f0e", "#1f77b4"]}, "legend": null}
     }},
    {"mark": {"type": "line", "strokeWidth": 3.2},
     "encoding": {
      "x": {"field": "epoch", "type": "quantitative"},
      "y": {"field": "dice", "type": "quantitative", "axis": {"title": "Test Dice Score"}},
      "stroke": {"field": "hypernet", "type": "nominal", "scale": {"domain": ["Default", "MIP (ours)"], "range": ["#1f77b4", "#ff7f0e"]}, "legend": null}
     }}
   ]
  },
  {
   "title": "Adam",
   "width": 549, "height": 300,
   "data": {"name": "b"},
   "layer": [
    {"mark": {"type": "area", "opacity": 0.22},
     "encoding": {
      "x": {"field": "epoch", "type": "quantitative", "scale": {"domain": [-150, 3140], "nice": false, "zero": false}, "axis": {"title": "Epoch", "values": [0, 1000, 2000, 3000], "format": "d"}},
      "y": {"field": "lo", "type": "quantitative", "scale": {"domain": [0.5705, 0.7398], "nice": false, "zero": false}, "axis": {"title": "Test Dice Score", "values": [0.6, 0.65, 0.7], "format": ".2f"}},
      "y2": {"field": "hi"},
      "fill": {"field": "hypernet", "type": "nominal", "scale": {"domain": ["MIP (ours)", "Default"], "range": ["#ff7f0e", "#1f77b4"]}, "legend": null}
     }},
    {"mark": {"type": "line", "strokeWidth": 3.2},
     "encoding": {
      "x": {"field": "epoch", "type": "quantitative"},
      "y": {"field": "dice", "type": "quantitative", "axis": {"title": "Test Dice Score"}},
      "stroke": {"field": "hypernet", "type": "nominal", "scale": {"domain": ["Default", "MIP (ours)"], "range": ["#1f77b4", "#ff7f0e"]},
       "legend": {"title": "Hypernet", "orient": "bottom-right", "offset": 15, "symbolType": "stroke", "symbolSize": 2500, "symbolStrokeWidth": 3.5, "titleAnchor": "middle", "titleFontSize": 30, "titleFontWeight": "normal", "titleColor": "#262626", "labelFontSize": 28.5, "labelColor": "#262626", "fillColor": "white", "strokeColor": "#d6d6d6", "cornerRadius": 6, "padding": 12, "rowPadding": 1, "labelOffset": 26, "titlePadding": 1}}
     }}
   ]
  }
 ]
},
{
 "title": {"text": "Scale-Space (OASIS)", "font": "Liberation Serif", "fontSize": 42.5, "fontWeight": "normal", "color": "#111111", "anchor": "middle", "offset": 22, "dx": 22},
 "resolve": {"scale": {"fill": "independent", "stroke": "independent"}, "legend": {"fill": "independent", "stroke": "independent"}},
 "spacing": 35,
 "hconcat": [
  {
   "title": "SGD Momentum",
   "width": 557, "height": 300,
   "data": {"name": "c"},
   "layer": [
    {"mark": {"type": "area", "opacity": 0.22},
     "encoding": {
      "x": {"field": "epoch", "type": "quantitative", "scale": {"domain": [-29, 1048], "nice": false, "zero": false}, "axis": {"title": "Epoch", "values": [0, 200, 400, 600, 800, 1000], "format": "d"}},
      "y": {"field": "lo", "type": "quantitative", "scale": {"domain": [-0.038, 0.844], "nice": false, "zero": false}, "axis": {"title": "Test Dice Score", "values": [0, 0.2, 0.4, 0.6, 0.8], "format": ".1f"}},
      "y2": {"field": "hi"},
      "fill": {"field": "hypernet", "type": "nominal", "scale": {"domain": ["MIP (ours)", "Default"], "range": ["#ff7f0e", "#1f77b4"]}, "legend": null}
     }},
    {"mark": {"type": "line", "strokeWidth": 3.2},
     "encoding": {
      "x": {"field": "epoch", "type": "quantitative"},
      "y": {"field": "dice", "type": "quantitative", "axis": {"title": "Test Dice Score"}},
      "stroke": {"field": "hypernet", "type": "nominal", "scale": {"domain": ["Default", "MIP (ours)"], "range": ["#1f77b4", "#ff7f0e"]}, "legend": null}
     }}
   ]
  },
  {
   "title": "Adam",
   "width": 567, "height": 300,
   "data": {"name": "d"},
   "layer": [
    {"mark": {"type": "area", "opacity": 0.22},
     "encoding": {
      "x": {"field": "epoch", "type": "quantitative", "scale": {"domain": [-48, 1046], "nice": false, "zero": false}, "axis": {"title": "Epoch", "values": [0, 200, 400, 600, 800, 1000], "format": "d"}},
      "y": {"field": "lo", "type": "quantitative", "scale": {"domain": [-0.041, 0.9], "nice": false, "zero": false}, "axis": {"title": "Test Dice Score", "values": [0, 0.2, 0.4, 0.6, 0.8], "format": ".1f"}},
      "y2": {"field": "hi"},
      "fill": {"field": "hypernet", "type": "nominal", "scale": {"domain": ["MIP (ours)", "Default"], "range": ["#ff7f0e", "#1f77b4"]}, "legend": null}
     }},
    {"mark": {"type": "line", "strokeWidth": 3.2},
     "encoding": {
      "x": {"field": "epoch", "type": "quantitative"},
      "y": {"field": "dice", "type": "quantitative", "axis": {"title": "Test Dice Score"}},
      "stroke": {"field": "hypernet", "type": "nominal", "scale": {"domain": ["Default", "MIP (ours)"], "range": ["#1f77b4", "#ff7f0e"]},
       "legend": {"title": "Hypernet", "orient": "bottom-right", "offset": 14, "symbolType": "stroke", "symbolSize": 2500, "symbolStrokeWidth": 3.5, "titleAnchor": "middle", "titleFontSize": 30, "titleFontWeight": "normal", "titleColor": "#262626", "labelFontSize": 28.5, "labelColor": "#262626", "fillColor": "white", "strokeColor": "#d6d6d6", "cornerRadius": 6, "padding": 12, "rowPadding": 1, "labelOffset": 26, "titlePadding": 1}}
     }}
   ]
  }
 ]
}
]
}
